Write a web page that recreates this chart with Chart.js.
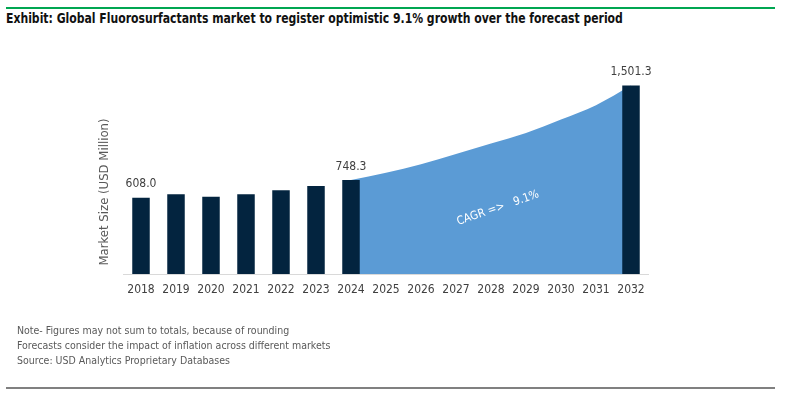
<!DOCTYPE html>
<html>
<head>
<meta charset="utf-8">
<script src="https://cdn.jsdelivr.net/npm/chart.js@4/dist/chart.umd.min.js"></script>
<style>
	body { margin: 0; background: #fff; }
	#wrap { position: relative; width: 789px; height: 400px; overflow: hidden; font-family: "DejaVu Sans Condensed", "Open Sans", sans-serif; }
	#wrap canvas { position: absolute; left: 0; top: 0; }
	.topline { position: absolute; left: 6px; top: 7px; width: 769px; height: 2px; background: #00a651; }
	.bottomline { position: absolute; left: 6px; top: 387px; width: 769px; height: 2px; background: #808080; }
	.title { position: absolute; left: 6px; top: 10px; font-size: 14px; font-weight: bold; color: #111; white-space: nowrap; transform: scaleX(0.862); transform-origin: 0 0; }
	.notes { position: absolute; left: 17px; top: 323px; font-size: 10.5px; line-height: 15px; color: #595959; }
</style>
</head>
<body>
<div id="wrap">
	<div class="topline"></div>
	<div class="title">Exhibit: Global Fluorosurfactants market to register optimistic 9.1% growth over the forecast period</div>
	<canvas id="chart" width="789" height="400"></canvas>
	<div class="notes">
		Note- Figures may not sum to totals, because of rounding<br>
		Forecasts consider the impact of inflation across different markets<br>
		Source: USD Analytics Proprietary Databases
	</div>
	<div class="bottomline"></div>
</div>
<script>
var years = ['2018', '2019', '2020', '2021', '2022', '2023', '2024', '2025', '2026', '2027', '2028', '2029', '2030', '2031', '2032'];
var barValues = [608.0, 636, 615, 636, 668, 700, 748.3, null, null, null, null, null, null, null, 1501.3];
var forecastValues = [null, null, null, null, null, null, 748.3, 806, 875, 955, 1040, 1124, 1231, 1345, 1501.3];
var labeledYears = ['2018', '2024', '2032'];
var cagrText = 'CAGR =>   9.1%';
var yTitle = 'Market Size (USD Million)';

var FONT = '"DejaVu Sans Condensed", "Open Sans", sans-serif';

var extras = {
	id: 'extras',
	afterDatasetsDraw: function(chart) {
		var ctx = chart.ctx;
		var xs = chart.scales.x;
		var ys = chart.scales.y;
		var meta = chart.getDatasetMeta(0);

		ctx.save();
		// value labels over the bars
		ctx.font = '12px ' + FONT;
		ctx.fillStyle = '#404040';
		ctx.textAlign = 'center';
		ctx.textBaseline = 'middle';
		meta.data.forEach(function(bar, i) {
			if (labeledYears.indexOf(years[i]) < 0) return;
			var txt = barValues[i].toLocaleString('en-US', { minimumFractionDigits: 1, maximumFractionDigits: 1 });
			ctx.fillText(txt, bar.x, bar.y - 13.5);
		});

		// cagr note on the area
		ctx.save();
		ctx.translate(xs.getPixelForValue(10.2), ys.getPixelForValue(525));
		ctx.rotate(-19 * Math.PI / 180);
		ctx.font = '11.5px ' + FONT;
		ctx.fillStyle = '#ffffff';
		ctx.fillText(cagrText, 0, 0);
		ctx.restore();

		// axis title
		ctx.save();
		ctx.translate(105, 192);
		ctx.rotate(-Math.PI / 2);
		ctx.font = '13px ' + FONT;
		ctx.fillStyle = '#595959';
		ctx.fillText(yTitle, 0, 0);
		ctx.restore();

		ctx.restore();
	}
};

new Chart(document.getElementById('chart').getContext('2d'), {
	type: 'bar',
	data: {
		labels: years,
		datasets: [{
			type: 'bar',
			data: barValues,
			backgroundColor: '#03243f',
			barPercentage: 0.5,
			categoryPercentage: 1,
			order: 1
		}, {
			type: 'line',
			data: forecastValues,
			backgroundColor: '#5b9bd5',
			borderWidth: 0,
			pointRadius: 0,
			fill: 'origin',
			cubicInterpolationMode: 'monotone',
			order: 2
		}]
	},
	options: {
		responsive: false,
		animation: false,
		layout: {
			padding: { left: 123.5, right: 140.5, top: 48, bottom: 100 }
		},
		plugins: {
			legend: { display: false },
			tooltip: { enabled: false }
		},
		scales: {
			x: {
				grid: { display: false, drawTicks: false },
				border: { display: true, color: '#d9d9d9', width: 1 },
				ticks: { color: '#404040', font: { family: FONT, size: 12 }, padding: 9, maxRotation: 0, autoSkip: false },
				afterFit: function(scale) { scale.height = 26; }
			},
			y: {
				display: false,
				min: 0,
				max: 1800
			}
		}
	},
	plugins: [extras]
});
</script>
</body>
</html>
